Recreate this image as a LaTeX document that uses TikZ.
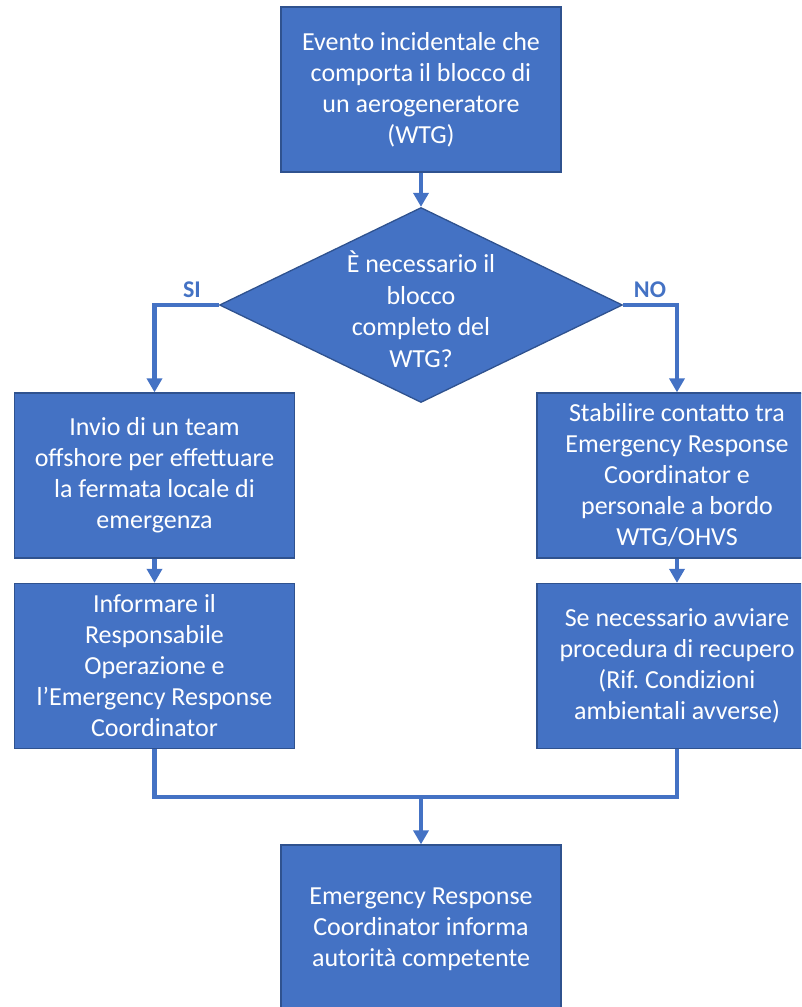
\documentclass[tikz,border=0pt]{standalone}
\usepackage{fontspec}
\setmainfont{Carlito}
\usetikzlibrary{arrows.meta,shapes.geometric}
\definecolor{boxblue}{HTML}{4472C4}
\definecolor{edgeblue}{HTML}{2F528F}
\frenchspacing
\begin{document}
\begin{tikzpicture}[x=1pt,y=-1pt,
  stepbox/.style={rectangle, draw=edgeblue, line width=1.3pt, fill=boxblue,
    text=white, minimum width=280pt, minimum height=165pt, inner sep=0pt,
    align=center, font=\fontsize{26}{31}\selectfont},
  decision/.style={diamond, draw=edgeblue, line width=1.3pt, fill=boxblue,
    minimum width=403pt, minimum height=195pt, inner sep=0pt},
  qtext/.style={text=white, align=center, inner sep=0pt,
    font=\fontsize{26}{31.5}\selectfont},
  answer/.style={text=boxblue, inner sep=0pt,
    font=\fontsize{24}{28}\selectfont\bfseries},
  link/.style={draw=boxblue, line width=4.5pt},
  flow/.style={link, -{Triangle[width=15pt,length=14pt]}}]

\clip (0,0) rectangle (801,1007);

% process steps
\node[stepbox] (start) at (421,89.5) {Evento incidentale che\\comporta il blocco di\\un aerogeneratore\\(WTG)};
\node[decision] (q) at (421,305) {};
\node[qtext] (qlabel) at (421,309) {È necessario il\\blocco\\completo del\\WTG?};
\node[stepbox] (team) at (154.5,475.5) {Invio di un team\\offshore per effettuare\\la fermata locale di\\emergenza};
\node[stepbox] (inform) at (154.5,666) {Informare il\\Responsabile\\Operazione e\\l’Emergency Response\\Coordinator};
\node[stepbox] (contact) at (677,475.5) {Stabilire contatto tra\\Emergency Response\\Coordinator e\\personale a bordo\\WTG/OHVS};
\node[stepbox] (recover) at (677,666) {Se necessario avviare\\procedura di recupero\\(Rif. Condizioni\\ambientali avverse)};
\node[stepbox, minimum height=168pt] (notify) at (421,929) {Emergency Response\\Coordinator informa\\autorità competente};

% branch labels
\node[answer] (yes) at (192,290) {SI};
\node[answer] (no) at (650,290) {NO};

% connectors
\coordinate (join) at (421,797);
\draw[flow] (start.south) -- (q.north);
\draw[flow] (q.west) -| (team.north);
\draw[flow] (q.east) -| (contact.north);
\draw[flow] (team.south) -- (inform.north);
\draw[flow] (contact.south) -- (recover.north);
\draw[link] (inform.south) |- (join) -| (recover.south);
\draw[flow] (join) -- (notify.north);
\end{tikzpicture}
\end{document}
